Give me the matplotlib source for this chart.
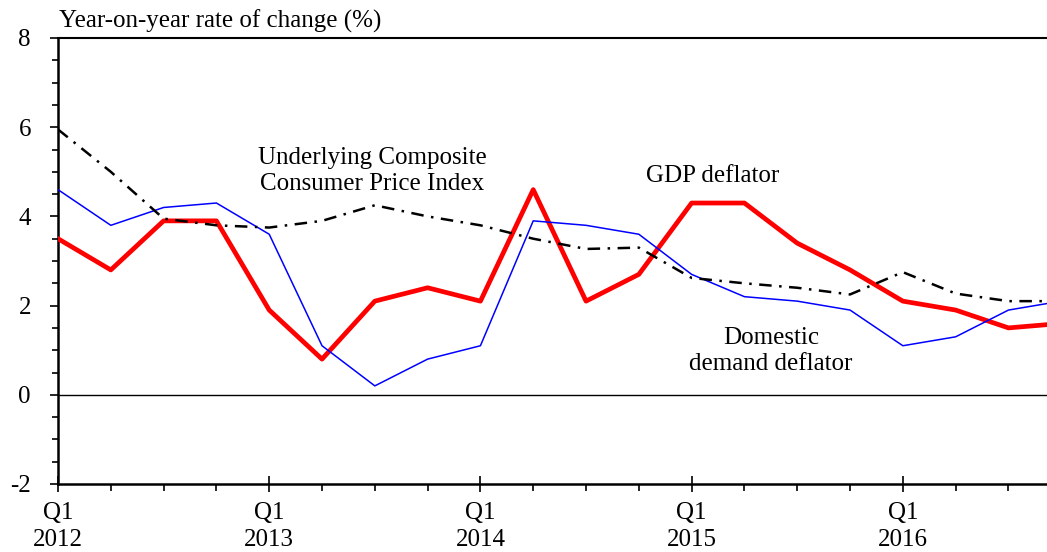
import numpy as np
import matplotlib
matplotlib.use('Agg')
import matplotlib.pyplot as plt
from matplotlib.ticker import MultipleLocator

plt.rcParams['font.family'] = ['Liberation Serif', 'DejaVu Serif']
plt.rcParams['axes.unicode_minus'] = False

# quarterly data, Q1 2012 - Q4 2016
quarters = np.arange(20)
gdp_deflator = [3.5, 2.8, 3.9, 3.9, 1.9, 0.8, 2.1, 2.4, 2.1, 4.6,
                2.1, 2.7, 4.3, 4.3, 3.4, 2.8, 2.1, 1.9, 1.5, 1.6]
domestic_demand = [4.6, 3.8, 4.2, 4.3, 3.6, 1.1, 0.2, 0.8, 1.1, 3.9,
                   3.8, 3.6, 2.7, 2.2, 2.1, 1.9, 1.1, 1.3, 1.9, 2.1]
underlying_ccpi = [5.95, 5.0, 3.95, 3.8, 3.75, 3.9, 4.25, 4.0, 3.8, 3.5,
                   3.27, 3.3, 2.62, 2.5, 2.4, 2.25, 2.75, 2.27, 2.1, 2.1]
year_ticks = [0, 4, 8, 12, 16]
year_labels = ['Q1\n2012', 'Q1\n2013', 'Q1\n2014', 'Q1\n2015', 'Q1\n2016']

fig = plt.figure(figsize=(10.47, 5.52), dpi=100)
ax = fig.add_axes([58/1047, 68/552, 989/1047, 446/552])

ax.plot(quarters, gdp_deflator, color='#ff0000', lw=3.4, zorder=3)
ax.plot(quarters, domestic_demand, color='#0000ff', lw=1.1, zorder=4)
ax.plot(quarters, underlying_ccpi, color='black', lw=1.8,
        linestyle=(0, (5, 3, 1, 3)), zorder=5)
ax.axhline(0, color='black', lw=1.0, zorder=2)

ax.set_xlim(0, 18.73)
ax.set_ylim(-2, 8)

ax.spines['right'].set_visible(False)
ax.spines['left'].set_linewidth(1.8)
ax.spines['bottom'].set_linewidth(1.8)
ax.spines['top'].set_linewidth(1.5)

ax.set_yticks([-2, 0, 2, 4, 6, 8])
ax.yaxis.set_minor_locator(MultipleLocator(0.5))
ax.tick_params(axis='y', which='major', direction='out', length=5.5, width=1.2,
               labelsize=18, pad=14)
ax.tick_params(axis='y', which='minor', direction='out', length=4, width=1.2)

ax.set_xticks(year_ticks)
ax.set_xticklabels(year_labels, linespacing=1.3)
ax.set_xticks(quarters[quarters < 19], minor=True)
ax.tick_params(axis='x', which='major', direction='inout', length=12, width=1.2,
               labelsize=18, pad=7)
ax.tick_params(axis='x', which='minor', direction='out', length=5, width=1.2)

ax.text(0.02, 8.12, 'Year-on-year rate of change (%)', fontsize=18,
        ha='left', va='bottom')
ax.text(5.95, 5.02, 'Underlying Composite\nConsumer Price Index', fontsize=18,
        ha='center', va='center', linespacing=1.25)
ax.text(12.4, 4.9, 'GDP deflator', fontsize=18, ha='center', va='center')
ax.text(13.5, 0.98, 'Domestic\ndemand deflator', fontsize=18,
        ha='center', va='center', linespacing=1.25)

fig.savefig('out.png', dpi=100)
